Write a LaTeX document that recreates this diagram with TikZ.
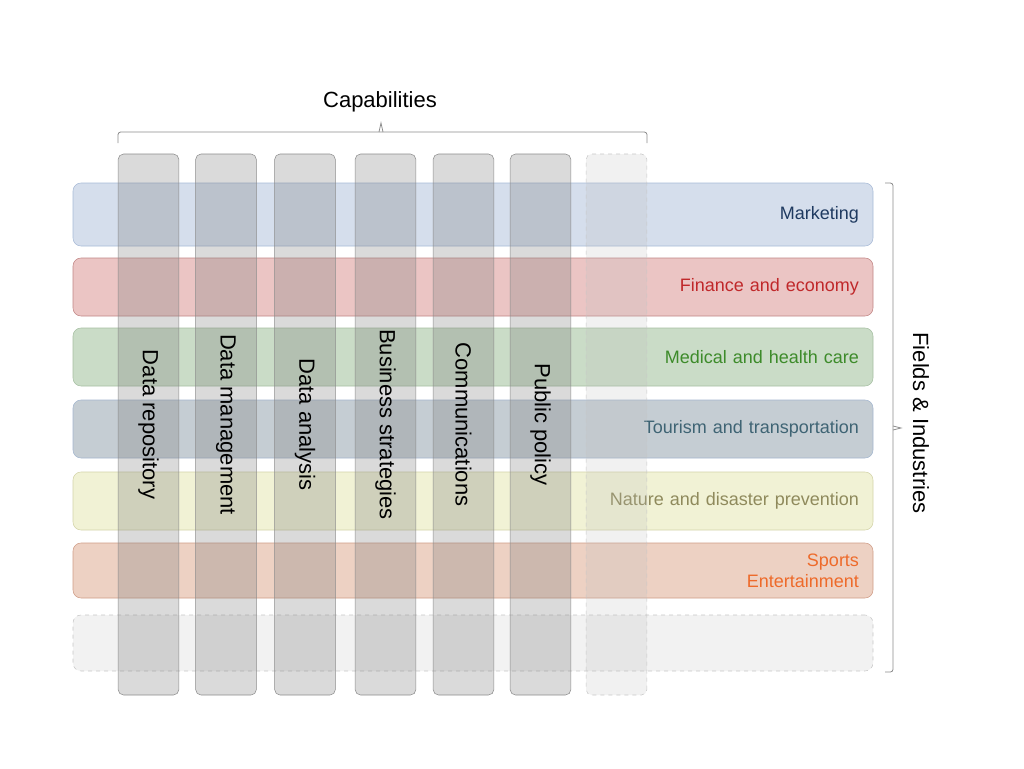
\documentclass[tikz,border=0pt]{standalone}
\usepackage{fontspec}
\setmainfont{Liberation Sans}
\usetikzlibrary{shapes,arrows}
\definecolor{mktFill}{HTML}{D5DEEC}\definecolor{mktLine}{HTML}{A7BAD6}\definecolor{mktText}{HTML}{1F3A60}
\definecolor{finFill}{HTML}{EBC5C4}\definecolor{finLine}{HTML}{C08584}\definecolor{finText}{HTML}{C0282A}
\definecolor{medFill}{HTML}{CADCC7}\definecolor{medLine}{HTML}{A6BFA2}\definecolor{medText}{HTML}{3D8B2A}
\definecolor{tourFill}{HTML}{C5CDD3}\definecolor{tourLine}{HTML}{A3B6CF}\definecolor{tourText}{HTML}{3F6474}
\definecolor{natFill}{HTML}{F1F2D5}\definecolor{natLine}{HTML}{D3D3A8}\definecolor{natText}{HTML}{8F8A5C}
\definecolor{sportFill}{HTML}{EDD1C3}\definecolor{sportLine}{HTML}{CF9C86}\definecolor{sportText}{HTML}{EE6A2A}
\definecolor{capFill}{HTML}{7E7E7E}\definecolor{capLine}{HTML}{8C8C8C}
\definecolor{spareFill}{HTML}{BCBCBC}
\tikzstyle{field} = [rectangle, draw, rounded corners=6pt, text width=579pt, align=right,
    inner xsep=10.5pt, minimum height=43.5pt, font=\fontsize{13.5}{16}\selectfont]
\tikzstyle{capability} = [rectangle, draw=capLine, fill=capFill, fill opacity=0.29, text opacity=1,
    rounded corners=4pt, rotate=-90, minimum width=405.75pt, minimum height=45.5pt,
    font=\fontsize{16.5}{19}\selectfont]
\tikzstyle{spare} = [draw=black!22, dashed, fill=spareFill, fill opacity=0.21]
\tikzstyle{bracket} = [draw=black!45, line width=0.6pt, rounded corners=2pt]

\begin{document}
\begin{tikzpicture}[x=0.75pt, y=-0.75pt]
    \useasboundingbox (0,0) rectangle (1024,768);
    % Place fields
    \node[field, draw=mktLine, fill=mktFill, text=mktText, minimum height=47.25pt](marketing) at (473,214.5){Marketing};
    \node[field, draw=finLine, fill=finFill, text=finText](finance) at (473,287){Finance and economy};
    \node[field, draw=medLine, fill=medFill, text=medText](medical) at (473,357){Medical and health care};
    \node[field, draw=tourLine, fill=tourFill, text=tourText](tourism) at (473,429){Tourism and transportation};
    \node[field, draw=natLine, fill=natFill, text=natText](nature) at (473,501){Nature and disaster prevention};
    \node[field, draw=sportLine, fill=sportFill, text=sportText, minimum height=41.25pt](sports) at (473,570.5){Sports\\Entertainment};
    \node[field, spare, fill=black!5, fill opacity=1, minimum height=42pt](moreFields) at (473,643){};

    % Place capabilities
    \node[capability](dataRepository) at (148.5,424.5){Data repository};
    \node[capability](dataManagement) at (226,424.5){Data management};
    \node[capability](dataAnalysis) at (305,424.5){Data analysis};
    \node[capability](businessStrategies) at (385.5,424.5){Business strategies};
    \node[capability](communications) at (463.5,424.5){Communications};
    \node[capability](publicPolicy) at (540.5,424.5){Public policy};
    \node[capability, spare](moreCapabilities) at (616.5,424.5){};

    % Brackets and titles
    \draw[bracket] (118,143) -- (118,132) -- (647,132) -- (647,143);
    \draw[draw=black!45, line width=0.6pt] (379,132) -- (381,123) -- (383,132);
    \node[font=\fontsize{16.5}{19}\selectfont](capabilities) at (380,102){Capabilities};
    \draw[bracket] (885,183) -- (893,183) -- (893,672) -- (885,672);
    \draw[draw=black!45, line width=0.6pt] (893,426) -- (901,428) -- (893,430);
    \node[font=\fontsize{16.5}{19}\selectfont, rotate=-90](fieldsIndustries) at (921,423){Fields \& Industries};
\end{tikzpicture}
\end{document}
